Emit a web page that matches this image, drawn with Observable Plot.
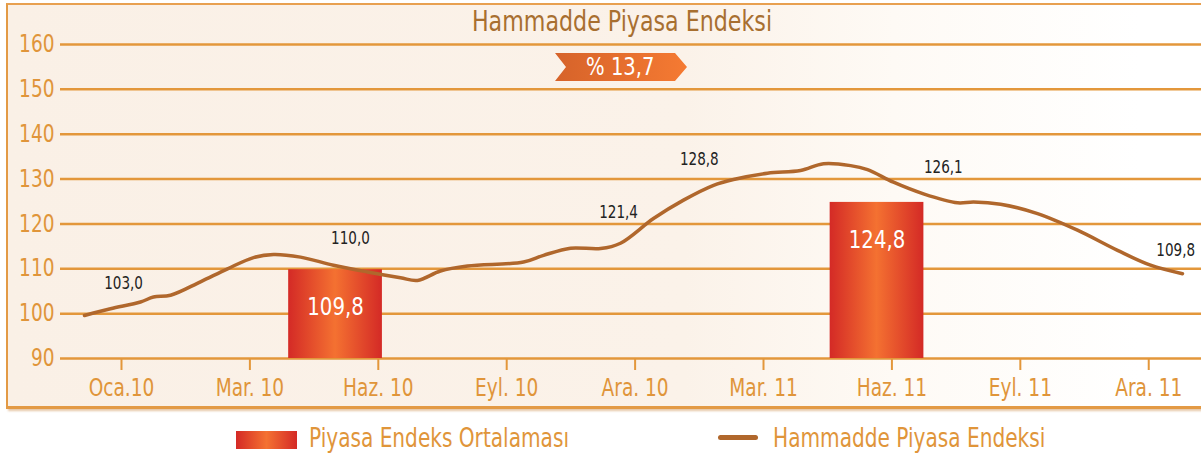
<!DOCTYPE html>
<html><head><meta charset="utf-8">
<script src="https://cdn.jsdelivr.net/npm/d3@7"></script>
<script src="https://cdn.jsdelivr.net/npm/@observablehq/plot@0.6"></script>
<style>
body{margin:0;background:#fff;}
#wrap{position:relative;width:1201px;height:456px;overflow:hidden;font-family:'DejaVu Sans Condensed','DejaVu Sans',sans-serif;}
#frame{position:absolute;left:6px;top:3px;width:1230px;height:401px;border-top:2px solid #e8a050;border-left:2px solid #e39a45;border-bottom:3px solid #e39a45;box-shadow:2px 2px 2px rgba(200,130,60,0.45);background:linear-gradient(to right,#faf0e6 0%,#fbf2e9 55%,#fefaf5 72%,#ffffff 92%);}
#chart{position:absolute;left:0;top:0;}
#title{position:absolute;left:0;width:1244px;top:3px;text-align:center;font-size:29px;color:#a86f30;line-height:36px;transform:scaleX(0.85);transform-origin:622px 0;}
#badge{position:absolute;left:555px;top:53px;width:132px;height:28px;background:linear-gradient(to right,#d6632a,#f57a32);clip-path:polygon(0 0,120px 0,132px 14px,120px 28px,0 28px,11px 14px);color:#fff;font-size:25px;line-height:28px;text-align:center;}
#badge span{display:inline-block;transform:scaleX(0.87);margin-left:-2px;}
.leg{position:absolute;top:425px;font-size:26px;color:#e0953a;line-height:26px;white-space:nowrap;transform:scaleX(0.86);transform-origin:0 0;}
#sw1{position:absolute;left:236px;top:431px;width:61px;height:18px;background:linear-gradient(to right,#d42a26,#f47131 50%,#d42a26);}
#sw2{position:absolute;left:718px;top:434.5px;width:40px;height:5px;border-radius:2.5px;background:#b0672c;}
</style></head><body>
<div id="wrap">
  <div id="frame"></div>
  <div id="chart"></div>
  <div id="title"></div>
  <div id="badge"><span></span></div>
  <div id="sw1"></div><div class="leg" id="lt1" style="left:309px"></div>
  <div id="sw2"></div><div class="leg" id="lt2" style="left:773px"></div>
</div>
<script>
// ---- data ----
const title = "Hammadde Piyasa Endeksi";
const badgeText = "% 13,7";
const legendLabels = ["Piyasa Endeks Ortalaması", "Hammadde Piyasa Endeksi"];
const tickLabels = ["Oca.10", "Mar. 10", "Haz. 10", "Eyl. 10", "Ara. 10", "Mar. 11", "Haz. 11", "Eyl. 11", "Ara. 11"];
const yTicks = [90, 100, 110, 120, 130, 140, 150, 160];
// line: position along the tick axis (0 = Oca.10 ... 8 = Ara.11) and index value
const lineX = [-0.288, -0.086, 0.148, 0.249, 0.382, 0.615, 0.826, 1.028, 1.184, 1.394, 1.651, 1.916, 2.173, 2.305, 2.484, 2.695, 3.131, 3.287, 3.497, 3.731, 3.886, 4.143, 4.377, 4.611, 4.766, 5.031, 5.288, 5.467, 5.678, 5.810, 6.012, 6.246, 6.511, 6.636, 6.846, 7.134, 7.445, 7.757, 8.014, 8.263];
const lineY = [99.6, 101.1, 102.6, 103.7, 104.1, 107.1, 110.0, 112.5, 113.2, 112.6, 110.8, 109.3, 108.0, 107.4, 109.5, 110.6, 111.5, 113.0, 114.6, 114.5, 115.7, 121.2, 125.3, 128.6, 129.9, 131.3, 131.9, 133.4, 133.0, 132.1, 129.3, 126.7, 124.7, 124.9, 124.4, 122.3, 118.6, 114.1, 110.8, 108.9];
// average bars
const barNames = ["2010", "2011"];
const barCenter = [1.667, 5.884];
const barValues = [109.8, 124.8];
// point labels
const labelX = [0.016, 1.783, 3.871, 4.50, 6.40, 8.21];
const labelY = [106.8, 116.8, 122.6, 134.4, 132.6, 114.1];
const labelValues = [103.0, 110.0, 121.4, 128.8, 126.1, 109.8];

// ---- build ----
const F = "'DejaVu Sans Condensed','DejaVu Sans',sans-serif";
const fmt = v => v.toFixed(1).replace(".", ",");
const barW = 0.73;
const lineData = lineX.map((x, i) => ({x, y: lineY[i]}));
const bars = barValues.map((v, i) => ({name: barNames[i], x1: barCenter[i] - barW / 2, x2: barCenter[i] + barW / 2, xc: barCenter[i], v}));
const labels = labelValues.map((v, i) => ({x: labelX[i], y: labelY[i], v}));

const defs = () => {
  const ns = "http://www.w3.org/2000/svg";
  const g = document.createElementNS(ns, "defs");
  g.innerHTML = '<linearGradient id="barGrad" x1="0" x2="1" y1="0" y2="0"><stop offset="0" stop-color="#d42a26"/><stop offset="0.5" stop-color="#f47131"/><stop offset="1" stop-color="#d42a26"/></linearGradient>';
  return g;
};

const chart = Plot.plot({
  width: 1201, height: 456,
  marginTop: 44, marginBottom: 98, marginLeft: 60, marginRight: 0,
  style: {background: "transparent", overflow: "visible", fontFamily: F},
  x: {domain: [-0.475, 8.411]},
  y: {domain: [90, 160]},
  marks: [
    defs,
    Plot.ruleY(yTicks, {stroke: "#e3973b", strokeWidth: 2.5}),
    Plot.axisY({ticks: yTicks, tickSize: 0, tickPadding: 6, fontSize: 24, fill: "#e0953a", fontFamily: F, label: null}),
    Plot.axisX({ticks: d3.range(tickLabels.length), tickSize: 12, tickPadding: 8, stroke: "#e3973b", strokeWidth: 2, tickFormat: i => tickLabels[i], fontSize: 24, fill: "#e0953a", fontFamily: F, label: null}),
    Plot.rect(bars, {x1: "x1", x2: "x2", y1: 90, y2: "v", fill: "url(#barGrad)"}),
    Plot.text(bars, {x: "xc", y: "v", text: d => fmt(d.v), dy: 37, fill: "white", fontSize: 25.5, fontFamily: F}),
    Plot.line(lineData, {x: "x", y: "y", stroke: "#b0672c", strokeWidth: 3.5, curve: "catmull-rom"}),
    Plot.text(labels, {x: "x", y: "y", text: d => fmt(d.v), fill: "#222", fontSize: 17.5, fontFamily: F})
  ]
});
// narrow the glyphs horizontally to match the condensed face of the original
chart.querySelectorAll("text").forEach(t => {
  const xs = t.getAttribute("x");
  const x = xs != null && !isNaN(+xs) ? +xs : 0;
  if (xs != null && !isNaN(+xs)) t.removeAttribute("x");
  const tr = t.getAttribute("transform") || "";
  t.setAttribute("transform", `${tr} translate(${x},0) scale(0.86,1)`);
});
document.getElementById("chart").appendChild(chart);
document.getElementById("title").textContent = title;
document.querySelector("#badge span").textContent = badgeText;
document.getElementById("lt1").textContent = legendLabels[0];
document.getElementById("lt2").textContent = legendLabels[1];
</script>
</body></html>
